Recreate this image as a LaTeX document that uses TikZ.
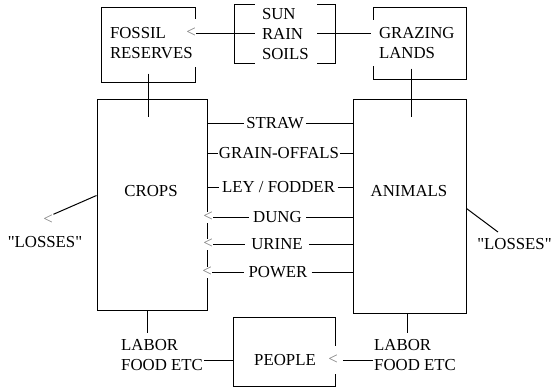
\documentclass[tikz,border=0pt]{standalone}
\usepackage{fontspec}
\setmainfont{Liberation Serif}[Ligatures=TeXOff]
\usepackage{xcolor}
\usepackage{tikz}
\usetikzlibrary{calc}
\definecolor{tipgray}{RGB}{128, 128, 128}
\tikzstyle{block} = [rectangle, draw=black, line width=1pt, inner sep=0pt]
\tikzstyle{tag} = [inner sep=1pt, fill=white, align=left]
\tikzstyle{arrowin} = [text=tipgray, fill=white, inner sep=0.5pt, minimum height=11]
\tikzstyle{wire} = [line width=1pt]

\begin{document}
\begin{tikzpicture}[x=1pt, y=-1pt, font=\fontsize{16.8}{20}\selectfont]
    \useasboundingbox (0,0) rectangle (555,388);

    % Boxes
    \node[block, minimum width=94, minimum height=75] (fossil) at (148,44.5) {};
    \node[block, minimum width=101, minimum height=59] (sun) at (284.5,33.5) {};
    \node[block, minimum width=93, minimum height=72] (grazing) at (419.5,43) {};
    \node[block, minimum width=110, minimum height=211] (crops) at (152,204.5) {};
    \node[block, minimum width=113, minimum height=214] (animals) at (409.5,206) {};
    \node[block, minimum width=102, minimum height=69] (people) at (284,351.5) {};

    % Box texts (white ground breaks the borders)
    \node[tag, text width=85, inner xsep=2, minimum height=48] (fossiltxt) at (152.5,43) {FOSSIL\\RESERVES};
    \node[tag, text width=48, inner xsep=7, minimum height=64] (suntxt) at (286,34) {SUN\\RAIN\\SOILS};
    \node[tag, text width=76, inner xsep=8, minimum height=46] (grazingtxt) at (417,43) {GRAZING\\LANDS};
    \node (cropstxt) at (151,191) {CROPS};
    \node (animalstxt) at (409,191) {ANIMALS};
    \node (peopletxt) at (285,360) {PEOPLE};

    % Top links
    \node[arrowin] (fossilin) at (191,33) {<};
    \draw[wire] (fossilin.east) -- (fossilin.east -| suntxt.west);
    \draw[wire] (suntxt.east |- fossilin) -- (grazingtxt.west |- fossilin);
    \draw[wire] ($(fossil.south)+(0,-9)$) -- ($(fossil.south |- crops.north)+(0,18)$);
    \draw[wire] ($(grazing.south)+(-8.5,-11)$) -- ($(animals.north)+(1.5,18)$);

    % Flows between crops and animals
    \node[tag, inner xsep=2] (straw) at (275,123) {STRAW};
    \node[tag, inner xsep=1] (grain) at (279,153) {GRAIN-OFFALS};
    \node[tag, inner xsep=2.5] (ley) at (278.5,187) {LEY / FODDER};
    \node[tag, inner xsep=4.5] (dung) at (277.5,217) {DUNG};
    \node[tag, inner xsep=6] (urine) at (277,244) {URINE};
    \node[tag, inner xsep=4] (power) at (278,272) {POWER};
    \node[arrowin] (dungin) at (208,217) {<};
    \node[arrowin] (urinein) at (208,244) {<};
    \node[arrowin] (powerin) at (207,272) {<};

    \draw[wire] (straw.west -| crops.east) -- (straw.west);
    \draw[wire] (straw.east) -- (straw.east -| animals.west);
    \draw[wire] (grain.west -| crops.east) -- (grain.west);
    \draw[wire] (grain.east) -- (grain.east -| animals.west);
    \draw[wire] (ley.west -| crops.east) -- (ley.west);
    \draw[wire] (ley.east) -- (ley.east -| animals.west);
    \draw[wire] (dungin.east) -- (dung.west);
    \draw[wire] (dung.east) -- (dung.east -| animals.west);
    \draw[wire] (urinein.east) -- (urine.west);
    \draw[wire] (urine.east) -- (urine.east -| animals.west);
    \draw[wire] (powerin.east) -- (power.west);
    \draw[wire] (power.east) -- (power.east -| animals.west);

    % Losses
    \node[arrowin, fill=none] (lossin) at (48,220) {<};
    \node (lossl) at (45,242) {"LOSSES"};
    \draw[wire] ($(crops.north west)+(0,97)$) -- (lossin.north east);
    \coordinate (lossend) at (498,232);
    \node (lossr) at (514.5,244) {"LOSSES"};
    \draw[wire] ($(animals.north east)+(0,110)$) -- (lossend);

    % Labor and food
    \node[tag, fill=none, anchor=west] (labl) at (120,355) {LABOR\\FOOD ETC};
    \node[tag, fill=none, anchor=west] (labr) at (373,355) {LABOR\\FOOD ETC};
    \node[arrowin, inner xsep=5, minimum height=28] (peoplein) at (333,360) {<};
    \draw[wire] ($(crops.south)+(-5,0)$) -- ++(0,22);
    \draw[wire] ($(animals.south)+(-2.5,0)$) -- ++(0,19);
    \draw[wire] (labl.east |- peopletxt) -- (people.west |- peopletxt);
    \draw[wire] (peoplein.east) -- (peoplein -| labr.west);
\end{tikzpicture}
\end{document}
